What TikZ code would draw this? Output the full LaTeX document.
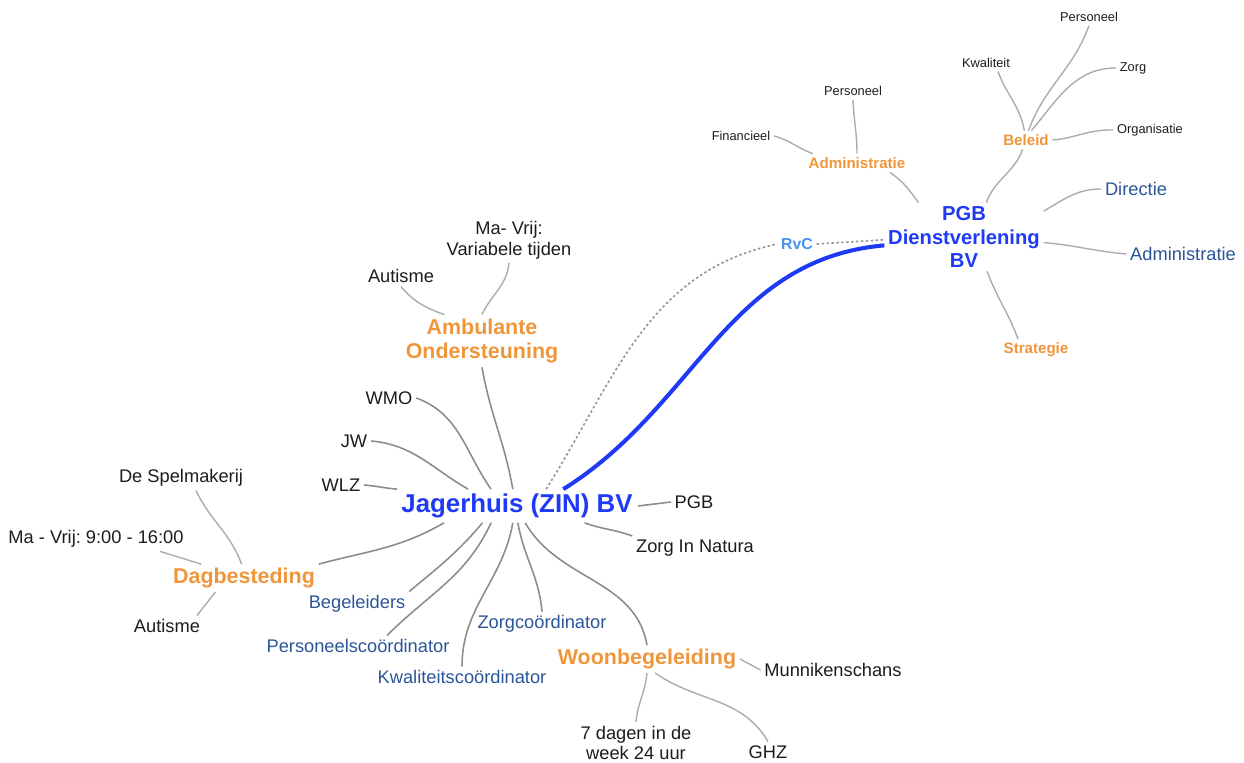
\documentclass[tikz,border=0pt]{standalone}
\usepackage{fontspec}
\setmainfont{Liberation Sans}
\frenchspacing
\usetikzlibrary{positioning}
\definecolor{hubblue}{RGB}{30,58,245}
\definecolor{orng}{RGB}{240,150,58}
\definecolor{dblue}{RGB}{42,86,152}
\definecolor{rvblue}{RGB}{72,146,236}
\definecolor{txtc}{RGB}{28,28,28}
\definecolor{lgray}{RGB}{140,140,140}
\definecolor{llgray}{RGB}{172,172,172}
\tikzset{
  hub/.style={text=hubblue,font=\fontsize{14.7}{17}\selectfont\bfseries,
              inner xsep=3pt,inner ysep=2.5pt},
  sub/.style={text=hubblue,font=\fontsize{11.5}{13.3}\selectfont\bfseries,
              align=center,inner sep=2pt},
  org/.style={text=orng,font=\fontsize{12.2}{14.2}\selectfont\bfseries,
              align=center,inner sep=2pt},
  sorg/.style={text=orng,font=\fontsize{8.6}{10}\selectfont\bfseries,inner sep=2pt},
  blu/.style={text=dblue,font=\fontsize{10.4}{12}\selectfont,inner sep=2pt},
  txt/.style={text=txtc,font=\fontsize{10.4}{11.8}\selectfont,align=center,inner sep=2pt},
  stxt/.style={text=txtc,font=\fontsize{7.3}{9}\selectfont,inner sep=2pt},
  rv/.style={text=rvblue,font=\fontsize{9}{10}\selectfont\bfseries,inner sep=2pt},
  ln/.style={draw=lgray,line width=.9pt},
  lln/.style={draw=llgray,line width=.8pt},
  thk/.style={draw=hubblue,line width=2.3pt},
  dtd/.style={draw=gray!85,line width=.9pt,dash pattern=on 1.4pt off 1.4pt},
}
\begin{document}
\begin{tikzpicture}[x=0.02cm,y=0.02cm]
  \useasboundingbox (0,0) rectangle (1244,-763);
  % centre nodes
  \node[hub] (J) at (517,-506) {Jagerhuis (ZIN) BV};
  \node[sub] (P) at (964,-237) {PGB\\Dienstverlening\\BV};
  \node[rv] (rvc) at (797,-244) {RvC};
  \draw[thk] (J.20) to[out=32,in=185] (P.186);
  \draw[dtd] (J.30) to[out=58,in=192] (rvc.west);
  \draw[dtd] (rvc.east) -- (P.182);

  % Jagerhuis branches
  \node[org] (amb) at (482,-341) {Ambulante\\Ondersteuning};
  \node[org] (dag) at (244,-578) {Dagbesteding};
  \node[org] (woon) at (647,-659) {Woonbegeleiding};
  \node[txt] (wmo) at (389,-398) {WMO};
  \node[txt] (jw) at (354,-441) {JW};
  \node[txt] (wlz) at (341,-485) {WLZ};
  \node[txt] (pgb) at (694,-502) {PGB};
  \node[txt] (zin) at (695,-548) {Zorg In Natura};
  \node[blu] (beg) at (357,-604) {Begeleiders};
  \node[blu] (pco) at (358,-646) {Personeelscoördinator};
  \node[blu] (kco) at (462,-677) {Kwaliteitscoördinator};
  \node[blu] (zco) at (542,-624) {Zorgcoördinator};
  \draw[ln] (amb.south) to[out=-80,in=100] (J.104);
  \draw[ln] (wmo.east) to[out=-20,in=125] (J.147);
  \draw[ln] (jw.east) to[out=-5,in=150] (J.161);
  \draw[ln] (wlz.east) to[out=-5,in=175] (J.172);
  \draw[ln] (J.east) -- (pgb.west);
  \draw[ln] (J.346) to[out=-20,in=160] (zin.north west);
  \draw[ln] (dag.north east) to[out=15,in=-150] (J.193);
  \draw[ln] (beg.north east) to[out=40,in=-130] (J.206);
  \draw[ln] (pco.20) to[out=45,in=-115] (J.213);
  \draw[ln] (kco.north) to[out=90,in=-100] (J.256);
  \draw[ln] (zco.north) to[out=95,in=-80] (J.273);
  \draw[ln] (woon.north) to[out=100,in=-60] (J.296);

  % Dagbesteding
  \node[txt] (spel) at (181,-478) {De Spelmakerij};
  \node[txt] (mavr) at (96,-539) {Ma - Vrij: 9:00 - 16:00};
  \node[txt] (aut1) at (167,-626) {Autisme};
  \draw[lln] (spel.south) ++(15,0) to[out=-65,in=110] (dag.100);
  \draw[lln] (mavr.south) ++(64,0) -- (dag.162);
  \draw[lln] (aut1.north) ++(30,0) -- (dag.206);

  % Ambulante Ondersteuning
  \node[txt] (aut2) at (401,-276) {Autisme};
  \node[txt] (mavar) at (509,-240) {Ma- Vrij:\\Variabele tijden};
  \draw[lln] (aut2.south) to[out=-50,in=160] (amb.145);
  \draw[lln] (mavar.south) to[out=-95,in=65] (amb.north);

  % Woonbegeleiding
  \node[txt] (munn) at (833,-670) {Munnikenschans};
  \node[txt] (zeven) at (636,-743) {7 dagen in de\\week 24 uur};
  \node[txt] (ghz) at (768,-752) {GHZ};
  \draw[lln] (woon.east) -- (munn.west);
  \draw[lln] (woon.270) to[out=-95,in=85] (zeven.north);
  \draw[lln] (woon.300) to[out=-35,in=120] (ghz.north);

  % PGB Dienstverlening
  \node[sorg] (adm) at (857,-163) {Administratie};
  \node[stxt] (fin) at (741,-136) {Financieel};
  \node[stxt] (pers) at (853,-91) {Personeel};
  \node[sorg] (bel) at (1026,-140) {Beleid};
  \node[stxt] (kw) at (986,-63) {Kwaliteit};
  \node[stxt] (pers2) at (1089,-17) {Personeel};
  \node[stxt] (zorg) at (1133,-68) {Zorg};
  \node[stxt] (org) at (1150,-130) {Organisatie};
  \node[blu] (dir) at (1136,-189) {Directie};
  \node[blu] (adm2) at (1183,-254) {Administratie};
  \node[sorg] (strat) at (1036,-350) {Strategie};
  \draw[lln] (adm.south) ++(33,0) to[out=-35,in=125] (P.143);
  \draw[lln] (fin.east) to[out=-15,in=160] (adm.168);
  \draw[lln] (pers.south) to[out=-88,in=90] (adm.north);
  \draw[lln] (bel.250) to[out=-110,in=70] (P.57);
  \draw[lln] (kw.south) ++(12,0) to[out=-70,in=100] (bel.100);
  \draw[lln] (pers2.south) to[out=-110,in=70] (bel.75);
  \draw[lln] (zorg.west) to[out=180,in=50] (bel.60);
  \draw[lln] (org.west) to[out=178,in=5] (bel.east);
  \draw[lln] (dir.west) to[out=180,in=30] (P.18);
  \draw[lln] (adm2.west) to[out=175,in=-5] (P.356);
  \draw[lln] (strat.north) ++(-18,0) to[out=110,in=-70] (P.304);
\end{tikzpicture}
\end{document}
